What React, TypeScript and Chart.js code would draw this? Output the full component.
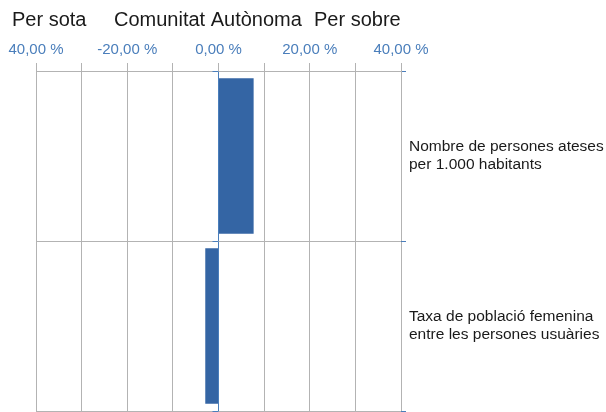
import React, { useEffect, useRef } from "react";
import { Chart, registerables } from "chart.js";

Chart.register(...registerables);

const categories: string[][] = [
  ["Nombre de persones ateses", "per 1.000 habitants"],
  ["Taxa de població femenina", "entre les persones usuàries"],
];
const values: number[] = [7.7, -2.9];
const tickLabels: Record<string, string> = {
  "-40": "40,00 %",
  "-20": "-20,00 %",
  "0": "0,00 %",
  "20": "20,00 %",
  "40": "40,00 %",
};
const titleParts: string[] = ["Per sota", "Comunitat Autònoma", "Per sobre"];
const titleX: number[] = [12, 114, 314];

const FONT = "'Liberation Sans', Arial, sans-serif";
const BLUE = "#3465a4";
const AXIS_BLUE = "#4a7ebb";
const GRID = "#b3b3b3";

const titlePlugin = {
  id: "splitTitle",
  afterDraw(chart: any) {
    const ctx = chart.ctx;
    ctx.save();
    ctx.font = `20px ${FONT}`;
    ctx.fillStyle = "#1a1a1a";
    ctx.textBaseline = "alphabetic";
    ctx.textAlign = "left";
    titleParts.forEach((t, i) => ctx.fillText(t, titleX[i], 26));
    ctx.restore();
  },
};

const zeroTicksPlugin = {
  id: "zeroTicks",
  afterDatasetsDraw(chart: any) {
    const xs = chart.scales.x;
    const ys = chart.scales.y;
    const ctx = chart.ctx;
    const x0 = xs.getPixelForValue(0);
    ctx.save();
    ctx.strokeStyle = AXIS_BLUE;
    ctx.lineWidth = 1;
    for (let i = 0; i <= categories.length; i++) {
      const y = Math.round(ys.getPixelForValue(i - 0.5)) + 0.5;
      ctx.beginPath();
      ctx.moveTo(x0 - 6, y);
      ctx.lineTo(x0, y);
      ctx.stroke();
    }
    ctx.restore();
  },
};

export default function App() {
  const ref = useRef<HTMLCanvasElement | null>(null);

  useEffect(() => {
    if (!ref.current) return;
    const chart = new Chart(ref.current, {
      type: "bar",
      data: {
        labels: categories as any,
        datasets: [
          {
            data: values,
            backgroundColor: BLUE,
            borderWidth: 0,
            categoryPercentage: 1,
            barPercentage: 0.915,
          },
        ],
      },
      options: {
        indexAxis: "y",
        responsive: false,
        animation: false,
        layout: { padding: { top: 36, left: 36, right: 0, bottom: 1 } },
        plugins: {
          legend: { display: false },
          tooltip: { enabled: false },
          title: { display: false },
        },
        scales: {
          x: {
            type: "linear",
            position: "top",
            min: -40,
            max: 40,
            afterFit(scale: any) {
              scale.height = 35;
              scale.paddingLeft = 0;
              scale.paddingRight = 0;
            },
            ticks: {
              stepSize: 10,
              autoSkip: false,
              maxRotation: 0,
              padding: 4,
              color: AXIS_BLUE,
              font: { family: FONT, size: 15 },
              callback: (v: any) => tickLabels[String(v)] ?? "",
            },
            grid: {
              color: (c: any) => (c.tick && c.tick.value === 0 ? AXIS_BLUE : GRID),
              tickColor: GRID,
              tickLength: 8,
            },
            border: { display: true, color: GRID },
          },
          y: {
            type: "category",
            position: "right",
            afterFit(scale: any) {
              scale.width = 205;
              scale.paddingTop = 0;
              scale.paddingBottom = 0;
            },
            ticks: {
              padding: 3,
              crossAlign: "near",
              color: "#1a1a1a",
              font: { family: FONT, size: 15.5, lineHeight: 1.17 },
            },
            grid: {
              offset: true,
              color: GRID,
              tickColor: AXIS_BLUE,
              tickLength: 5,
            },
            border: { display: false },
          },
        },
      },
      plugins: [titlePlugin, zeroTicksPlugin],
    } as any);
    return () => chart.destroy();
  }, []);

  return (
    <div style={{ position: "fixed", left: 0, top: 0, width: 606, height: 412, background: "#fff" }}>
      <canvas ref={ref} width={606} height={412} />
    </div>
  );
}
